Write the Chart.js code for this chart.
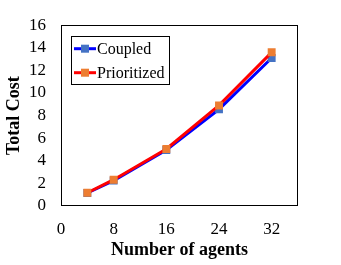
<!DOCTYPE html>
<html>
<head>
<meta charset="utf-8">
<script src="https://cdn.jsdelivr.net/npm/chart.js@4/dist/chart.umd.min.js"></script>
<style>
html,body{margin:0;padding:0;background:#fff;}
#wrap{width:341px;height:265px;position:relative;}
</style>
</head>
<body>
<div id="wrap"><canvas id="c" width="341" height="265"></canvas></div>
<script>
const agents = [4, 8, 16, 24, 32];
const coupled = [1.15, 2.25, 4.95, 8.55, 13.1];
const prioritized = [1.17, 2.33, 5.05, 8.9, 13.6];
const xTickValues = [0, 8, 16, 24, 32];
const seriesNames = ['Coupled', 'Prioritized'];
const xTitle = 'Number of agents';
const yTitle = 'Total Cost';

const serif = "'Liberation Serif', 'Times New Roman', serif";

const frameAndLegend = {
  id: 'frameAndLegend',
  afterDatasetsDraw(chart) {
    const ctx = chart.ctx;
    const a = chart.chartArea;
    ctx.save();
    ctx.strokeStyle = '#000';
    ctx.lineWidth = 1;
    ctx.strokeRect(Math.round(a.left) + 0.5, Math.round(a.top) + 0.5, Math.round(a.right - a.left) - 1, Math.round(a.bottom - a.top) - 1);
    // legend
    const lx = a.left + 10, ly = a.top + 11, lw = 98, lh = 48;
    ctx.fillStyle = '#fff';
    ctx.fillRect(lx, ly, lw, lh);
    ctx.strokeStyle = '#000';
    ctx.strokeRect(Math.round(lx) + 0.5, Math.round(ly) + 0.5, lw, lh);
    ctx.font = '16px ' + serif;
    ctx.textBaseline = 'middle';
    ctx.textAlign = 'left';
    const items = chart.data.datasets;
    items.forEach((ds, i) => {
      const cy = ly + 12.5 + i * 24;
      ctx.strokeStyle = ds.borderColor;
      ctx.lineWidth = 3;
      ctx.beginPath();
      ctx.moveTo(lx + 3, cy);
      ctx.lineTo(lx + 25, cy);
      ctx.stroke();
      ctx.fillStyle = ds.pointBackgroundColor;
      ctx.fillRect(lx + 10, cy - 4, 8, 8);
      ctx.fillStyle = '#000';
      ctx.fillText(ds.label, lx + 26, cy + 1);
    });
    ctx.restore();
  }
};

new Chart(document.getElementById('c'), {
  type: 'line',
  data: {
    datasets: [
      {
        label: seriesNames[0],
        data: agents.map((x, i) => ({x: x, y: coupled[i]})),
        borderColor: '#0000FF',
        backgroundColor: '#4472C4',
        pointBackgroundColor: '#4472C4',
        borderWidth: 3,
        pointStyle: 'rect',
        pointRadius: 5.6,
        pointBorderWidth: 0,
        tension: 0,
        order: 1
      },
      {
        label: seriesNames[1],
        data: agents.map((x, i) => ({x: x, y: prioritized[i]})),
        borderColor: '#FF0000',
        backgroundColor: '#ED7D31',
        pointBackgroundColor: '#ED7D31',
        borderWidth: 3,
        pointStyle: 'rect',
        pointRadius: 5.6,
        pointBorderWidth: 0,
        tension: 0,
        order: 0
      }
    ]
  },
  options: {
    responsive: false,
    animation: false,
    layout: {padding: {left: 0, right: 43, top: 12, bottom: 0}},
    plugins: {legend: {display: false}, tooltip: {enabled: false}},
    scales: {
      x: {
        type: 'linear',
        min: 0, max: 36,
        grid: {display: false, drawTicks: false},
        border: {display: false},
        afterBuildTicks(s) { s.ticks = xTickValues.map(v => ({value: v})); },
        afterFit(s) { s.height = 59; },
        ticks: {autoSkip: false, color: '#000', font: {family: serif, size: 17}, padding: 13, maxRotation: 0},
        title: {display: true, text: xTitle, color: '#000', font: {family: serif, size: 18, weight: 'bold'}, padding: {top: 0, bottom: 4}}
      },
      y: {
        min: 0, max: 16,
        grid: {display: false, drawTicks: false},
        border: {display: false},
        afterFit(s) { s.width = 61; },
        ticks: {autoSkip: false, stepSize: 2, color: '#000', font: {family: serif, size: 17}, padding: 15},
        title: {display: true, text: yTitle, color: '#000', font: {family: serif, size: 18, weight: 'bold'}, padding: {top: 4, bottom: 0}}
      }
    }
  },
  plugins: [frameAndLegend]
});
</script>
</body>
</html>
